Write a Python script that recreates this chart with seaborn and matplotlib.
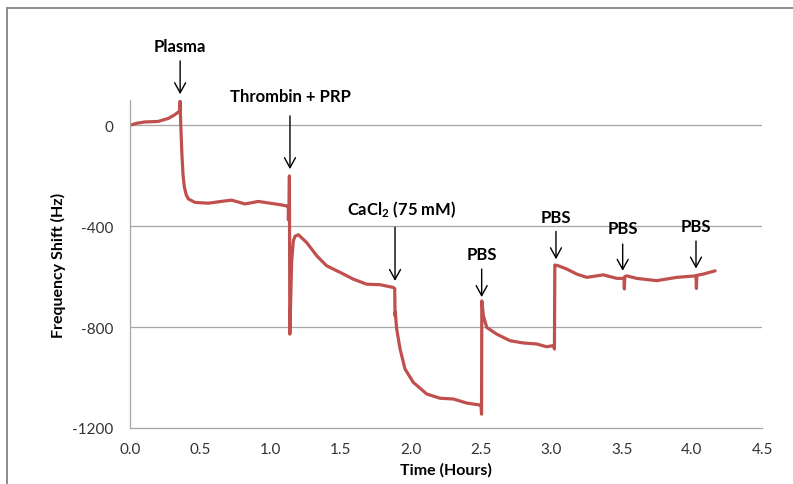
import matplotlib
matplotlib.use("Agg")
import matplotlib.pyplot as plt
import seaborn as sns
import numpy as np
from matplotlib.lines import Line2D

# frequency shift trace (time in hours, shift in Hz)
time_h = [0.000, 0.050, 0.107, 0.200, 0.273, 0.320, 0.355, 0.357, 0.359, 0.365,
          0.370, 0.378, 0.387, 0.400, 0.415, 0.463, 0.558, 0.676, 0.724, 0.819,
          0.914, 1.009, 1.070, 1.116, 1.127, 1.128, 1.130, 1.133, 1.135, 1.138,
          1.151, 1.163, 1.175, 1.199, 1.258, 1.329, 1.400, 1.495, 1.590, 1.685,
          1.780, 1.875, 1.885, 1.887, 1.890, 1.893, 1.899, 1.923, 1.958, 2.017,
          2.112, 2.207, 2.302, 2.397, 2.492, 2.500, 2.503, 2.505, 2.516, 2.540,
          2.611, 2.706, 2.800, 2.896, 2.967, 3.019, 3.022, 3.025, 3.050, 3.110,
          3.181, 3.252, 3.370, 3.466, 3.517, 3.520, 3.523, 3.537, 3.608, 3.750,
          3.893, 4.030, 4.033, 4.036, 4.082, 4.166]
shift_hz = [0, 8, 13, 15, 27, 42, 57, 95, 40, -50,
            -120, -200, -245, -275, -292, -306, -309, -300, -297, -312,
            -302, -310, -315, -320, -322, -375, -325, -323, -201, -828,
            -540, -458, -440, -434, -465, -517, -557, -583, -610, -630,
            -632, -643, -648, -755, -740, -770, -808, -887, -966, -1019,
            -1065, -1082, -1085, -1101, -1109, -1108, -1145, -696, -755, -801,
            -828, -854, -863, -867, -878, -873, -887, -554, -557, -570,
            -590, -603, -593, -607, -607, -649, -600, -597, -607, -616,
            -603, -597, -647, -595, -590, -577]

# injection annotations: label, arrow x, label y, arrow tail y, arrow tip y
events = ["Plasma", "Thrombin + PRP", "CaCl$_2$ (75 mM)", "PBS", "PBS", "PBS", "PBS"]
event_x = [0.357, 1.139, 1.887, 2.504, 3.033, 3.508, 4.030]
label_x = [0.357, 1.139, 1.935, 2.504, 3.033, 3.508, 4.030]
label_y = [314, 116, -333, -511, -362, -409, -399]
tail_y = [255, 37, -404, -570, -421, -471, -459]
tip_y = [123, -174, -617, -681, -531, -577, -568]

sns.set_theme(style="white")
plt.rcParams['font.family'] = ['Lato', 'DejaVu Sans']
plt.rcParams['axes.unicode_minus'] = False
plt.rcParams['mathtext.fontset'] = 'custom'
plt.rcParams['mathtext.rm'] = 'Lato:bold'
plt.rcParams['mathtext.it'] = 'Lato:bold'

fig = plt.figure(figsize=(7.93, 4.85), dpi=100)
ax = fig.add_axes([130 / 793, 1 - 429 / 485, 632 / 793, 328 / 485])

grid_c = '#a6a6a6'
sns.lineplot(x=time_h, y=shift_hz, ax=ax, color='#c0504d', lw=2.3,
             sort=False, estimator=None)

for yv in [0, -400, -800]:
    ax.axhline(yv, color=grid_c, lw=0.9, zorder=0)

ax.set_xlim(0, 4.5)
ax.set_ylim(-1200, 100)
ax.set_xticks(np.arange(0, 4.51, 0.5))
ax.set_xticklabels([f"{v:.1f}" for v in np.arange(0, 4.51, 0.5)])
ax.set_yticks([0, -400, -800, -1200])

for side in ['top', 'right']:
    ax.spines[side].set_visible(False)
for side in ['left', 'bottom']:
    ax.spines[side].set_color(grid_c)
    ax.spines[side].set_linewidth(0.9)

ax.tick_params(axis='x', direction='in', length=4.5, width=0.8, color=grid_c,
               labelsize=11, labelcolor='#333333', pad=10)
ax.tick_params(axis='y', length=0, labelsize=11, labelcolor='#333333', pad=12)

ax.set_xlabel("Time (Hours)", fontsize=11.5, fontweight='bold', color='black')
ax.set_ylabel("Frequency Shift (Hz)", fontsize=11.5, fontweight='bold', color='black')
ax.xaxis.set_label_coords(0.5, -(470 - 429) / 328)
ax.xaxis.label.set_va('center')
ax.yaxis.set_label_coords(-(130 - 58) / 632, 0.5)
ax.yaxis.label.set_va('center')

for name, ex, lx, ly, ty, py in zip(events, event_x, label_x, label_y, tail_y, tip_y):
    ax.text(lx, ly, name, ha='center', va='center', fontsize=12,
            fontweight='bold', color='black', clip_on=False)
    ax.annotate('', xy=(ex, py), xytext=(ex, ty), annotation_clip=False,
                arrowprops=dict(arrowstyle='->,head_length=0.4,head_width=0.22',
                                mutation_scale=18, lw=1.0, color='black',
                                shrinkA=0, shrinkB=0))

# outer chart-area frame (cropped on right and bottom)
fx0 = 7 / 793
fy1 = 1 - 9 / 485
fig.add_artist(Line2D([fx0, fx0], [-0.1, fy1], transform=fig.transFigure,
                      color='#8c8c8c', lw=1.4))
fig.add_artist(Line2D([fx0, 1.1], [fy1, fy1], transform=fig.transFigure,
                      color='#8c8c8c', lw=1.4))

fig.savefig('out.png', dpi=100)
